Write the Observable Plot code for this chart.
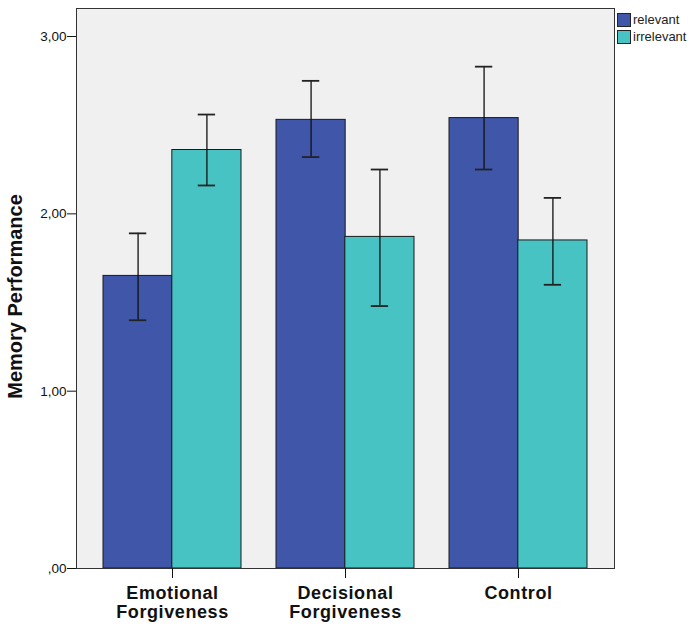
<!DOCTYPE html>
<html>
<head>
<meta charset="utf-8">
<script src="https://cdn.jsdelivr.net/npm/d3@7"></script>
<script src="https://cdn.jsdelivr.net/npm/@observablehq/plot@0.6"></script>
<style>
  html, body { margin: 0; padding: 0; background: #fff; }
  #wrap { position: relative; width: 700px; height: 631px; font-family: "Liberation Sans", Arial, sans-serif; }
  #legend { position: absolute; left: 617px; top: 11px; font-size: 13px; color: #222; }
  #legend .row { display: flex; align-items: center; height: 17px; }
  #legend .sw { width: 12px; height: 12px; border: 1px solid #222; margin-right: 2px; box-sizing: content-box; }
  g[aria-label="x-axis tick label"] { letter-spacing: 0.6px; }
</style>
</head>
<body>
<div id="wrap"></div>
<script>
const groups = ["Emotional Forgiveness", "Decisional Forgiveness", "Control"];
const groupLabels = ["Emotional\nForgiveness", "Decisional\nForgiveness", "Control"];
const seriesNames = ["relevant", "irrelevant"];
const relevantMean = [1.65, 2.53, 2.54];
const relevantLo = [1.40, 2.32, 2.25];
const relevantHi = [1.89, 2.75, 2.83];
const irrelevantMean = [2.36, 1.87, 1.85];
const irrelevantLo = [2.16, 1.48, 1.60];
const irrelevantHi = [2.56, 2.25, 2.09];
const yTicks = [0, 1, 2, 3];
const yTickLabels = [",00", "1,00", "2,00", "3,00"];
const colors = ["#3f56a9", "#48c3c4"];

const relevant = groups.map((g, i) => ({group: g, mean: relevantMean[i], lo: relevantLo[i], hi: relevantHi[i]}));
const irrelevant = groups.map((g, i) => ({group: g, mean: irrelevantMean[i], lo: irrelevantLo[i], hi: irrelevantHi[i]}));

const width = 700, height = 631, ml = 76, mr = 86, mt = 8, mb = 63;
const pInner = 0.205, pOuter = 0.156;
const step = (width - ml - mr) / (groups.length - pInner + 2 * pOuter);
const bw = step * (1 - pInner);
const half = bw / 2;
const capInset = (bw - 17) / 2;

const chart = Plot.plot({
  width, height,
  marginLeft: ml, marginRight: mr, marginTop: mt, marginBottom: mb,
  style: {fontFamily: "Liberation Sans, Arial, sans-serif", color: "#111", background: "#fff"},
  x: {domain: groups, paddingInner: pInner, paddingOuter: pOuter},
  y: {domain: [0, 3.158]},
  marks: [
    Plot.frame({fill: "#f0f0f0", stroke: "none"}),
    Plot.barY(relevant, {x: "group", y: "mean", fill: colors[0], stroke: "#1a1a1a", strokeWidth: 1, insetRight: half}),
    Plot.barY(irrelevant, {x: "group", y: "mean", fill: colors[1], stroke: "#1a1a1a", strokeWidth: 1, insetLeft: half}),
    Plot.ruleX(relevant, {x: "group", y1: "lo", y2: "hi", dx: -half / 2, stroke: "#111", strokeWidth: 1.3}),
    Plot.ruleX(irrelevant, {x: "group", y1: "lo", y2: "hi", dx: half / 2, stroke: "#111", strokeWidth: 1.3}),
    Plot.tickY(relevant, {x: "group", y: "hi", dx: -half / 2, insetLeft: capInset, insetRight: capInset, stroke: "#222", strokeWidth: 1.8}),
    Plot.tickY(relevant, {x: "group", y: "lo", dx: -half / 2, insetLeft: capInset, insetRight: capInset, stroke: "#222", strokeWidth: 1.8}),
    Plot.tickY(irrelevant, {x: "group", y: "hi", dx: half / 2, insetLeft: capInset, insetRight: capInset, stroke: "#222", strokeWidth: 1.8}),
    Plot.tickY(irrelevant, {x: "group", y: "lo", dx: half / 2, insetLeft: capInset, insetRight: capInset, stroke: "#222", strokeWidth: 1.8}),
    Plot.frame({stroke: "#333", strokeWidth: 1}),
    Plot.axisY({ticks: yTicks, tickFormat: d => yTickLabels[yTicks.indexOf(d)], tickSize: 9, tickPadding: 1, fontSize: 13.5, label: null}),
    Plot.axisX({tickSize: 10, tickPadding: 6, fontSize: 18, fontWeight: "bold", lineHeight: 1.1, tickFormat: d => groupLabels[groups.indexOf(d)], label: null}),
    Plot.text(["Memory Performance"], {frameAnchor: "left", rotate: -90, textAnchor: "middle", dx: -61, dy: 8, fontSize: 20, fontWeight: "bold", text: d => d})
  ]
});

const wrap = document.getElementById("wrap");
wrap.appendChild(chart);
const legend = document.createElement("div");
legend.id = "legend";
seriesNames.forEach((name, i) => {
  const row = document.createElement("div");
  row.className = "row";
  const sw = document.createElement("div");
  sw.className = "sw";
  sw.style.background = colors[i];
  const label = document.createElement("span");
  label.textContent = name;
  row.appendChild(sw);
  row.appendChild(label);
  legend.appendChild(row);
});
wrap.appendChild(legend);
</script>
</body>
</html>
